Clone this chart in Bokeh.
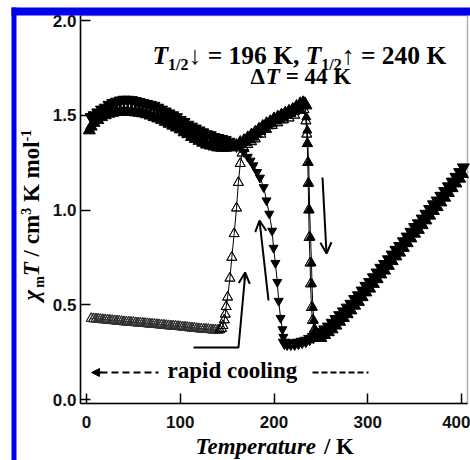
import math
from bokeh.plotting import figure
from bokeh.models import Range1d, Label, BoxAnnotation, Arrow, OpenHead, NormalHead, FixedTicker
from bokeh.embed import file_html
from bokeh.resources import INLINE

# ---------------- data ----------------
# cooling, filled down-triangles (400 K -> 5 K)
cool_T = [402, 398, 394, 390, 386, 382, 378, 374, 370, 366, 362, 358, 354, 350, 346, 342, 338, 334,
          330, 326, 322, 318, 314, 310, 306, 302, 298, 294, 290, 286, 282, 278, 274, 270, 266, 262,
          258, 254, 250, 246, 242, 238, 234, 230, 226, 222, 218, 214, 211,
          210, 209, 207, 205, 203.5, 201.5, 199.5, 198, 195, 192, 189, 185, 182, 178, 175, 172, 168, 164,
          160, 156, 152, 148, 144, 140, 136, 132, 128, 124, 120, 116, 112, 108, 104, 100, 96, 92, 88,
          84, 80, 76, 72, 68, 64, 60, 56, 52, 48, 44, 40, 36, 32, 28, 24, 20, 16, 12, 8, 5]
cool_chiT = [1.225, 1.20, 1.175, 1.15, 1.125, 1.10, 1.075, 1.05, 1.03, 1.005, 0.98, 0.955, 0.93, 0.91,
             0.885, 0.86, 0.835, 0.81, 0.79, 0.765, 0.74, 0.715, 0.695, 0.67, 0.645, 0.62, 0.60, 0.575,
             0.55, 0.53, 0.505, 0.485, 0.465, 0.445, 0.425, 0.405, 0.385, 0.37, 0.355, 0.34, 0.33, 0.32,
             0.31, 0.305, 0.30, 0.295, 0.295, 0.295, 0.30,
             0.33, 0.37, 0.43, 0.52, 0.62, 0.72, 0.80, 0.89, 0.98, 1.05, 1.12, 1.17, 1.20, 1.235, 1.26,
             1.28, 1.305, 1.33,
             1.34, 1.35, 1.36, 1.37, 1.375, 1.38, 1.385, 1.395, 1.40, 1.41, 1.42, 1.43, 1.44, 1.45,
             1.465, 1.475, 1.49, 1.50, 1.51, 1.52, 1.53, 1.54, 1.55, 1.555, 1.56, 1.565, 1.57, 1.575,
             1.58, 1.582, 1.582, 1.578, 1.572, 1.565, 1.555, 1.54, 1.53, 1.515, 1.50, 1.49]

# heating, filled up-triangles (3 K -> 400 K)
heat_T = [3, 5, 8, 12, 16, 20, 24, 28, 32, 36, 40, 44, 48, 52, 56, 60, 64, 68, 72, 76, 80, 84, 88, 92,
          96, 100, 104, 108, 112, 116, 120, 124, 128, 132, 136, 140, 144, 148, 152, 156, 160, 164, 168,
          172, 176, 180, 184, 188, 192, 196, 200, 204, 208, 212, 216, 220, 224, 228, 231, 233,
          234.5, 235.5, 236, 237, 237.5, 238, 239, 240, 240.5, 241.5, 242.5, 244, 246,
          250, 254, 258, 262, 266, 270, 274, 278, 282, 286, 290, 294, 298, 302, 306, 310, 314, 318,
          322, 326, 330, 334, 338, 342, 346, 350, 354, 358, 362, 366, 370, 374, 378, 382, 386, 390,
          394, 398, 401]
heat_chiT = [1.42, 1.44, 1.46, 1.475, 1.49, 1.50, 1.508, 1.513, 1.517, 1.518, 1.518, 1.518, 1.517,
             1.515, 1.513, 1.51, 1.505, 1.498, 1.49, 1.483, 1.475, 1.465, 1.455, 1.445, 1.435, 1.425,
             1.41, 1.40, 1.385, 1.375, 1.365, 1.355, 1.345, 1.34, 1.335, 1.33, 1.328, 1.328, 1.33,
             1.335, 1.34, 1.35, 1.36, 1.375, 1.39, 1.405, 1.42, 1.435, 1.45, 1.46, 1.475, 1.485, 1.495,
             1.505, 1.515, 1.525, 1.54, 1.555, 1.56, 1.555,
             1.49, 1.42, 1.35, 1.25, 1.14, 1.00, 0.855, 0.72, 0.61, 0.485, 0.417, 0.36, 0.33,
             0.325, 0.34, 0.355, 0.37, 0.39, 0.41, 0.43, 0.45, 0.47, 0.495, 0.515, 0.54, 0.565, 0.585,
             0.61, 0.635, 0.66, 0.68, 0.705, 0.73, 0.755, 0.775, 0.80, 0.825, 0.85, 0.875, 0.895, 0.92,
             0.945, 0.97, 0.995, 1.015, 1.04, 1.065, 1.09, 1.115, 1.14, 1.165, 1.19]

# heating after rapid cooling, open up-triangles
rapid_T = [5, 7.5, 10, 12.5, 15, 17.5, 20, 22.5, 25, 27.5, 30, 32.5, 35, 37.5, 40, 42.5, 45, 47.5, 50,
           52.5, 55, 57.5, 60, 62.5, 65, 67.5, 70, 72.5, 75, 77.5, 80, 82.5, 85, 87.5, 90, 92.5, 95,
           97.5, 100, 102.5, 105, 107.5, 110, 112.5, 115, 117.5, 120, 122.5, 125, 127.5, 130, 132.5,
           135, 137.5, 140, 142, 144, 145.5, 147, 148, 149, 150.5, 153, 155, 157.5, 160,
           162, 164, 166, 168, 172, 176, 180, 186, 192, 198, 204, 210, 216, 222, 228, 232,
           234, 235, 235.5, 236, 236.5, 237, 237.5, 238.5, 239, 240, 241, 243, 247]
rapid_chiT = [0.427, 0.426, 0.425, 0.424, 0.422, 0.421, 0.42, 0.419, 0.418, 0.416, 0.415, 0.414, 0.413,
              0.411, 0.41, 0.409, 0.408, 0.407, 0.406, 0.405, 0.404, 0.403, 0.402, 0.401, 0.40, 0.398,
              0.397, 0.396, 0.395, 0.394, 0.393, 0.391, 0.39, 0.389, 0.388, 0.387, 0.386, 0.385, 0.384,
              0.382, 0.381, 0.38, 0.378, 0.377, 0.376, 0.374, 0.373, 0.372, 0.371, 0.37, 0.369, 0.368,
              0.367, 0.366, 0.366, 0.368, 0.375, 0.39, 0.42, 0.45, 0.49, 0.54, 0.64, 0.75, 0.875, 1.01,
              1.145, 1.245, 1.30, 1.325, 1.345, 1.36, 1.375, 1.40, 1.425, 1.445, 1.46, 1.475, 1.485,
              1.50, 1.525, 1.53, 1.47, 1.40, 1.35, 1.25, 1.14, 1.00, 0.855, 0.72, 0.61, 0.485, 0.417,
              0.37, 0.345]

x_ticks = [0, 100, 200, 300, 400]
x_tick_labels = ["0", "100", "200", "300", "400"]
y_ticks = [0.0, 0.5, 1.0, 1.5, 2.0]
y_tick_labels = ["0.0", "0.5", "1.0", "1.5", "2.0"]

# ---------------- layout: the frame covers the whole canvas ----------------
W, H = 470, 460
PX_PER_K, PX_PER_UNIT = 0.9375, 189.5
ORIGIN_X, ORIGIN_Y = 86, 399           # canvas px of T = 0 and chiT = 0
X0, X1 = -ORIGIN_X / PX_PER_K, (W - ORIGIN_X) / PX_PER_K
Y0, Y1 = (ORIGIN_Y - H) / PX_PER_UNIT, ORIGIN_Y / PX_PER_UNIT
BOX_L, BOX_R, BOX_T, BOX_B = 80, 467, 15, 403   # drawn plot box, canvas px


def tx(px):
    return X0 + px * (X1 - X0) / W


def ty(py):
    return Y1 - py * (Y1 - Y0) / H


p = figure(width=W, height=H, x_range=Range1d(X0, X1), y_range=Range1d(Y0, Y1),
           output_backend="svg", toolbar_location=None, title=None,
           min_border=0, min_border_left=0, min_border_right=0, min_border_top=0, min_border_bottom=0)
p.background_fill_color = "white"
p.border_fill_color = "white"
p.outline_line_color = None
p.grid.visible = False

for ax, ticks, labels in ((p.xaxis[0], x_ticks, x_tick_labels), (p.yaxis[0], y_ticks, y_tick_labels)):
    ax.ticker = FixedTicker(ticks=ticks)
    ax.major_label_overrides = {t: l for t, l in zip(ticks, labels)}
    ax.axis_line_color = "black"
    ax.axis_line_width = 1.5
    ax.major_tick_line_color = "black"
    ax.major_tick_line_width = 1.5
    ax.major_tick_in = 10
    ax.major_tick_out = 0
    ax.minor_tick_line_color = None
    ax.major_label_text_font = "Liberation Sans"
    ax.major_label_text_font_style = "bold"
    ax.major_label_text_font_size = "17px"
    ax.major_label_text_color = "#111111"
p.xaxis.fixed_location = ty(BOX_B)
p.xaxis.bounds = (tx(BOX_L), tx(BOX_R))
p.xaxis.major_label_standoff = 12
p.yaxis.fixed_location = tx(BOX_L)
p.yaxis.bounds = (ty(BOX_B), ty(BOX_T))
p.yaxis.major_label_standoff = 4

# plot box and the blue frame bars of the picture
p.add_layout(BoxAnnotation(left=tx(BOX_L), right=tx(BOX_R), top=ty(BOX_T), bottom=ty(BOX_B),
                           fill_color=None, fill_alpha=0, line_color="black", line_width=1.5))
for l, r, t, b in ((11, 16, 7, 460), (11, 470, 7, 15)):
    p.add_layout(BoxAnnotation(left=tx(l), right=tx(r), top=ty(t), bottom=ty(b),
                               fill_color="#0000ee", fill_alpha=1.0, line_alpha=0))

# ---------------- series ----------------
cool_size = [9 if (163 < t < 210.5 and v > 0.32) else 12 for t, v in zip(cool_T, cool_chiT)]
heat_size = [9 if 233.5 < t < 244 else (14 if 162 < t <= 233 else 12) for t in heat_T]
N_LOW = 55   # points of the low (trapped) branch before the rise

p.line(rapid_T, rapid_chiT, line_color="black", line_width=1)
p.scatter(rapid_T, rapid_chiT, marker="triangle", size=10, fill_color=None, line_color="black",
          line_width=0.9)
p.scatter(rapid_T[:N_LOW], rapid_chiT[:N_LOW], marker="triangle", size=10, fill_color=None,
          line_color="#333333", line_width=1.1)
p.line(cool_T, cool_chiT, line_color="black", line_width=1)
p.line(heat_T, heat_chiT, line_color="black", line_width=1)
p.scatter(cool_T, cool_chiT, marker="inverted_triangle", size=cool_size, fill_color="black",
          line_color="black")
p.scatter(heat_T, heat_chiT, marker="triangle", size=heat_size, fill_color="black", line_color="black")
# open triangles of the rise and drop stay visible on top
p.scatter(rapid_T[N_LOW:], rapid_chiT[N_LOW:], marker="triangle", size=10, fill_color=None,
          line_color="black", line_width=0.9)

# ---------------- arrows ----------------
p.line([tx(193), tx(238), tx(244.5)], [ty(347), ty(347), ty(276)], line_color="black", line_width=2)
for (xs, ys, xe, ye) in ((244, 280, 244.6, 272), (268, 300, 259, 220), (322, 177, 326, 253)):
    p.add_layout(Arrow(x_start=tx(xs), y_start=ty(ys), x_end=tx(xe), y_end=ty(ye), line_width=2,
                       end=OpenHead(size=11, line_width=2, line_color="black")))
p.line([tx(100), tx(158)], [ty(372), ty(372)], line_color="black", line_width=2, line_dash="7 4")
p.line([tx(312), tx(368)], [ty(372), ty(372)], line_color="black", line_width=2, line_dash="6 3")
p.add_layout(Arrow(x_start=tx(101), y_start=ty(372), x_end=tx(91), y_end=ty(372), line_width=2,
                   end=NormalHead(size=8, fill_color="black", line_color="black")))

# ---------------- texts ----------------
TB = {' ': .25, ',': .25, '.': .25, '/': .278, '-': .333, '=': .57, 'K': .778, 'T': .667, 'a': .5,
      'c': .444, 'd': .556, 'e': .444, 'g': .5, 'i': .278, 'l': .278, 'm': .833, 'n': .556, 'o': .5,
      'p': .556, 'r': .444, 't': .333, 'u': .556, 'Δ': .667, '↓': .5, '↑': .5}
TBI = {'T': .611, 'e': .444, 'm': .778, 'p': .5, 'r': .389, 'a': .5, 't': .278, 'u': .556, 'χ': .55}
BASE_FIX = 0.32   # measured: label anchors render ~0.32 em below the wanted baseline


def width(text, style):
    tab = TBI if "italic" in style else TB
    return sum(tab.get(c, 0.5) for c in text)


def run(pieces, px, py, angle=0.0):
    pos = 0.0
    for text, style, size, shift in pieces:
        lead = len(text) - len(text.lstrip(" "))
        pos += lead * 0.25 * size            # SVG drops leading blanks, so advance instead
        body = text.strip(" ")
        corr = BASE_FIX * size
        if angle == 0.0:
            X, Y = px + pos, py + shift - corr
        else:
            X, Y = px + shift - corr, py - pos
        p.add_layout(Label(x=tx(X), y=ty(Y), text=body, text_font="Liberation Serif",
                           text_font_style=style, text_font_size=f"{size}px", text_color="black",
                           text_align="left", text_baseline="alphabetic", angle=angle))
        pos += width(text.lstrip(" "), style) * size


BIS, BS = "bold italic", "bold"
line1 = [("T", BIS, 25.5, 0), ("1/2", BS, 16, 6), ("↓", BS, 25.5, 0), (" = 196 K,", BS, 25.5, 0),
         (" T", BIS, 25.5, 0), ("1/2", BS, 16, 6), ("↑", BS, 25.5, 0), (" = 240 K", BS, 25.5, 0)]
run(line1, 152, 63)
line2 = [("Δ", BS, 23, 0), ("T", BIS, 23, 0), (" = 44 K", BS, 23, 0)]
run(line2, 250, 83)
run([("rapid cooling", BS, 23, 0)], 167, 377)
run([("Temperature", BIS, 23, 0), (" / K", BS, 23, 0)], 195, 453)
ylab = [("χ", BIS, 23, 0), ("m", BS, 14, 5), ("T", BIS, 23, 0), (" / cm", BS, 23, 0), ("3", BS, 14, -8),
        (" K mol", BS, 23, 0), ("-1", BS, 14, -8)]
run(ylab, 38, 300, angle=math.pi / 2)

open("out.html", "w").write(file_html(p, INLINE))
